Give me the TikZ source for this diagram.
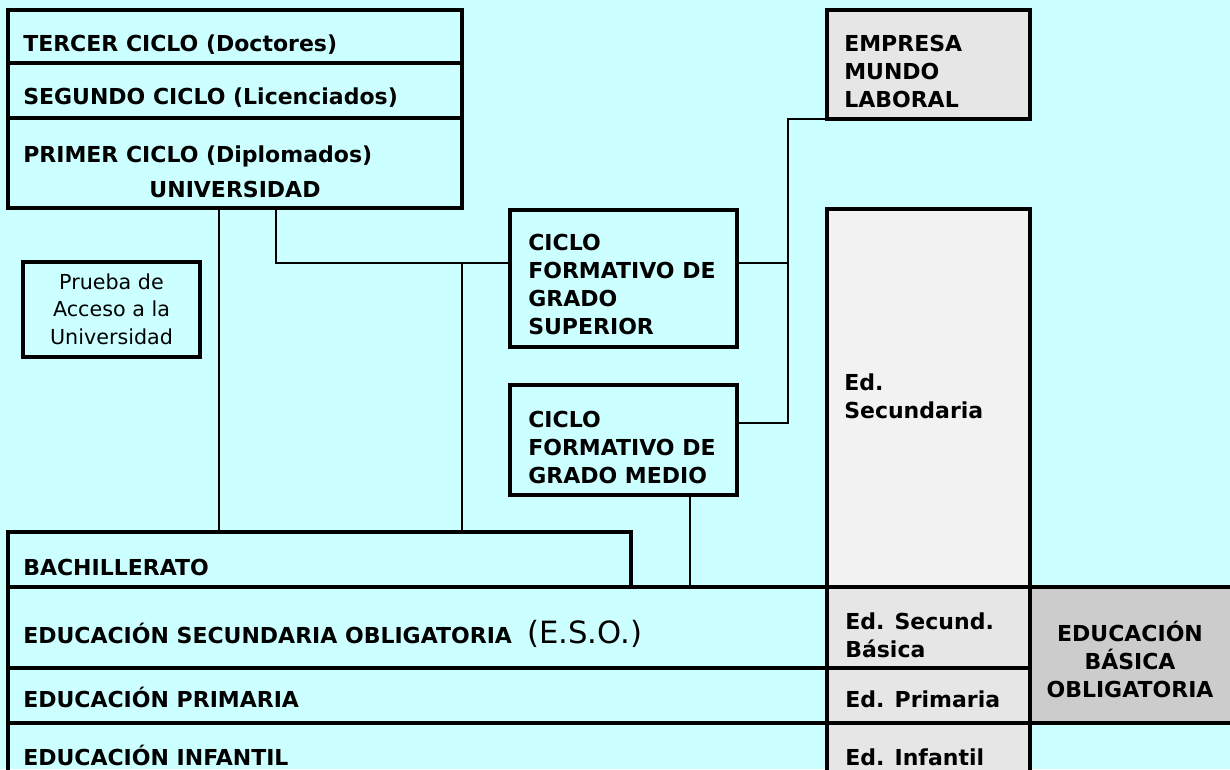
\documentclass[tikz,border=0pt]{standalone}
\usepackage{fontspec}
\setmainfont{DejaVu Sans}
\usepackage{tikz}
\usetikzlibrary{fit}
\definecolor{fondo}{HTML}{CCFFFF}
\definecolor{grisclaro}{HTML}{F2F2F2}
\definecolor{gris}{HTML}{E6E6E6}
\definecolor{grisosc}{HTML}{CCCCCC}

\begin{document}
\begin{tikzpicture}[x=0.75pt, y=-0.75pt,
    caja/.style={draw, line width=2.3pt, inner sep=0pt, outer sep=0pt},
    txt/.style={font=\bfseries\fontsize{16.5}{20.8}\selectfont, inner sep=0pt, anchor=base west, align=left},
    linea/.style={line width=1.5pt}]
\fill[fondo] (0,0) rectangle (1230,769);
\useasboundingbox (0,0) rectangle (1230,769);

\node[caja, fit={(8,10) (462,63)}] (c3) {};
\node[caja, fit={(8,63) (462,118)}] (c2) {};
\node[caja, fit={(8,118) (462,208)}] (c1) {};
\node[caja, fit={(23,262) (200,357)}] (prueba) {};
\node[caja, fill=gris, fit={(827,10) (1030,119)}] (empresa) {};
\node[caja, fit={(510,210) (737,347)}] (cfgs) {};
\node[caja, fit={(510,385) (737,495)}] (cfgm) {};
\node[caja, fill=grisclaro, fit={(827,209) (1030,587)}] (edsec) {};
\node[caja, fit={(8,532) (631,587)}] (bach) {};
\node[caja, fit={(8,587) (827,668)}] (eso) {};
\node[caja, fit={(8,668) (827,723)}] (prim) {};
\node[caja, fit={(8,723) (827,790)}] (inf) {};
\node[caja, fill=gris, fit={(827,587) (1030,668)}] (edsb) {};
\node[caja, fill=gris, fit={(827,668) (1030,723)}] (edp) {};
\node[caja, fill=gris, fit={(827,723) (1030,790)}] (edi) {};
\node[caja, fill=grisosc, fit={(1030,587) (1240,723)}] (basica) {};

\node[txt] (t3) at (23,51) {TERCER CICLO (Doctores)};
\node[txt] (t2) at (23,104) {SEGUNDO CICLO (Licenciados)};
\node[txt] (t1) at (23,162) {PRIMER CICLO (Diplomados)};
\node[txt, anchor=base] (tuni) at (235,197) {UNIVERSIDAD};
\node[txt, font=\fontsize{15.5}{20.6}\selectfont, align=center, anchor=base] (tpru) at (111.5,344) {Prueba de\\Acceso a la\\Universidad};
\node[txt, font=\bfseries\fontsize{16.5}{21}\selectfont] (temp) at (844,107) {EMPRESA\\MUNDO\\LABORAL};
\node[txt, font=\bfseries\fontsize{16.5}{21}\selectfont] (tcfgs) at (528,334) {CICLO\\FORMATIVO DE\\GRADO\\SUPERIOR};
\node[txt, font=\bfseries\fontsize{16.5}{21}\selectfont] (tcfgm) at (528,483) {CICLO\\FORMATIVO DE\\GRADO MEDIO};
\node[txt] (tsec) at (844,418) {Ed.\\Secundaria};
\node[txt] (tbach) at (23,575) {BACHILLERATO};
\node[txt] (teso) at (23,643) {EDUCACIÓN SECUNDARIA OBLIGATORIA\ \ {\mdseries\fontsize{23}{26}\selectfont(E.S.O.)}};
\node[txt] (tprim) at (23,707) {EDUCACIÓN PRIMARIA};
\node[txt] (tinf) at (23,765) {EDUCACIÓN INFANTIL};
\node[txt] (tedsb) at (845,657) {Ed. Secund.\\Básica};
\node[txt] (tedp) at (845,707) {Ed. Primaria};
\node[txt] (tedi) at (845,765) {Ed. Infantil};
\node[txt, align=center, anchor=base] (tbas) at (1130,697) {EDUCACIÓN\\BÁSICA\\OBLIGATORIA};

\coordinate (xa) at (219,0);
\coordinate (jb) at (276,263);
\coordinate (jd) at (788,263);
\coordinate (je) at (788,423);
\coordinate (xf) at (690,0);
\draw[linea] (c1.south -| xa) -- (bach.north -| xa);
\draw[linea] (c1.south -| jb) -- (jb) -- (jb -| cfgs.west);
\draw[linea] (jb -| c1.east) -- (bach.north -| c1.east);
\draw[linea] (cfgs.east |- jd) -- (jd);
\draw[linea] (empresa.south west) -| (je) -- (cfgm.east |- je);
\draw[linea] (cfgm.south -| xf) -- (eso.north -| xf);
\end{tikzpicture}
\end{document}
